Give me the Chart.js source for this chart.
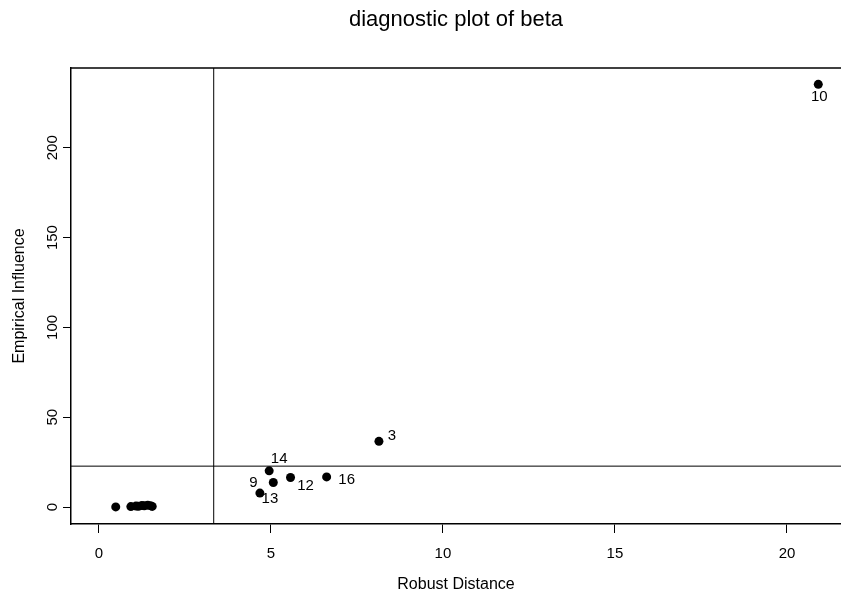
<!DOCTYPE html>
<html lang="en">
<head>
<meta charset="UTF-8">
<title>diagnostic plot of beta</title>
<script src="https://cdn.jsdelivr.net/npm/chart.js@4.4.0/dist/chart.umd.min.js"></script>
<style>
  html, body { margin: 0; padding: 0; background: #fff; overflow: hidden; }
</style>
</head>
<body>
<canvas id="diag" width="841" height="596"></canvas>
<script>
// observations 1..16
const obsIds       = [1, 2, 3, 4, 5, 6, 7, 8, 9, 10, 11, 12, 13, 14, 15, 16];
const robustDist   = [1.08, 0.93, 8.14, 1.25, 1.15, 1.42, 0.49, 1.32, 5.07, 20.91, 1.50, 5.57, 4.68, 4.95, 1.55, 6.62];
const empInfluence = [0.6, 0.3, 36.6, 0.9, 0.5, 1.1, 0.1, 0.7, 13.7, 235.3, 0.8, 16.5, 7.8, 20.2, 0.4, 16.8];
const labeledIds   = [3, 9, 10, 12, 13, 14, 16];

const xTicks = [0, 5, 10, 15, 20];
const yTicks = [0, 50, 100, 150, 200];
const xRange = [-0.81, 21.57];
const yRange = [-9.4, 244.4];

// cutoff lines
const distCutoff = 3.338;
const inflCutoff = 22.8;

// label placement next to its point, in px
const labelOffset = {3: [13, -5], 9: [-20, 0], 10: [1, 13], 12: [15, 8], 13: [10, 6], 14: [10, -12], 16: [20, 3]};

const FONT = '"Liberation Sans", Arial, Helvetica, sans-serif';

const rDecor = {
    id: 'rDecor',
    afterDraw(chart) {
        const {ctx, chartArea: a, scales} = chart;
        ctx.save();
        // top of the box
        ctx.strokeStyle = '#000';
        ctx.lineWidth = 1.5;
        ctx.beginPath();
        ctx.moveTo(a.left, a.top);
        ctx.lineTo(a.right, a.top);
        ctx.stroke();

        ctx.fillStyle = '#000';
        ctx.textAlign = 'center';
        ctx.textBaseline = 'middle';
        ctx.font = '22px ' + FONT;
        ctx.fillText('diagnostic plot of beta', (a.left + a.right) / 2, 20);

        ctx.font = '15px ' + FONT;
        xTicks.forEach(v => {
            ctx.fillText(String(v), scales.x.getPixelForValue(v), 554);
        });
        yTicks.forEach(v => {
            ctx.save();
            ctx.translate(53, scales.y.getPixelForValue(v));
            ctx.rotate(-Math.PI / 2);
            ctx.fillText(String(v), 0, 0);
            ctx.restore();
        });

        ctx.font = '16px ' + FONT;
        ctx.save();
        ctx.translate(20, (a.top + a.bottom) / 2);
        ctx.rotate(-Math.PI / 2);
        ctx.fillText('Empirical Influence', 0, 0);
        ctx.restore();
        ctx.fillText('Robust Distance', (a.left + a.right) / 2, 585);

        // observation numbers
        ctx.font = '15px ' + FONT;
        labeledIds.forEach(id => {
            const i = obsIds.indexOf(id);
            const off = labelOffset[id];
            const px = scales.x.getPixelForValue(robustDist[i]) + off[0];
            const py = scales.y.getPixelForValue(empInfluence[i]) + off[1];
            ctx.fillText(String(id), px, py);
        });
        ctx.restore();
    }
};

const points = obsIds.map((id, i) => ({x: robustDist[i], y: empInfluence[i]}));

new Chart(document.getElementById('diag'), {
    type: 'scatter',
    data: {
        datasets: [
            {
                data: points,
                backgroundColor: '#000',
                borderColor: '#000',
                pointRadius: 4.5,
                pointHoverRadius: 4.5,
                borderWidth: 0
            },
            {
                data: [{x: distCutoff, y: yRange[0]}, {x: distCutoff, y: yRange[1]}],
                showLine: true, pointRadius: 0, borderColor: '#000', borderWidth: 1
            },
            {
                data: [{x: xRange[0], y: inflCutoff}, {x: xRange[1], y: inflCutoff}],
                showLine: true, pointRadius: 0, borderColor: '#000', borderWidth: 1
            }
        ]
    },
    options: {
        responsive: false,
        animation: false,
        devicePixelRatio: 1,
        layout: {autoPadding: false, padding: {top: 68, left: 0, right: 0, bottom: 0}},
        plugins: {legend: {display: false}, tooltip: {enabled: false}, title: {display: false}},
        scales: {
            x: {
                type: 'linear',
                min: xRange[0],
                max: xRange[1],
                afterBuildTicks: s => { s.ticks = xTicks.map(v => ({value: v})); },
                afterFit: s => { s.height = 72; },
                grid: {display: true, drawOnChartArea: false, drawTicks: true, tickLength: 9, tickColor: '#000', tickWidth: 1},
                border: {display: true, color: '#000', width: 1.5},
                ticks: {display: false}
            },
            y: {
                type: 'linear',
                min: yRange[0],
                max: yRange[1],
                afterBuildTicks: s => { s.ticks = yTicks.map(v => ({value: v})); },
                afterFit: s => { s.width = 71; },
                grid: {display: true, drawOnChartArea: false, drawTicks: true, tickLength: 8, tickColor: '#000', tickWidth: 1},
                border: {display: true, color: '#000', width: 1.5},
                ticks: {display: false}
            }
        }
    },
    plugins: [rDecor]
});
</script>
</body>
</html>
